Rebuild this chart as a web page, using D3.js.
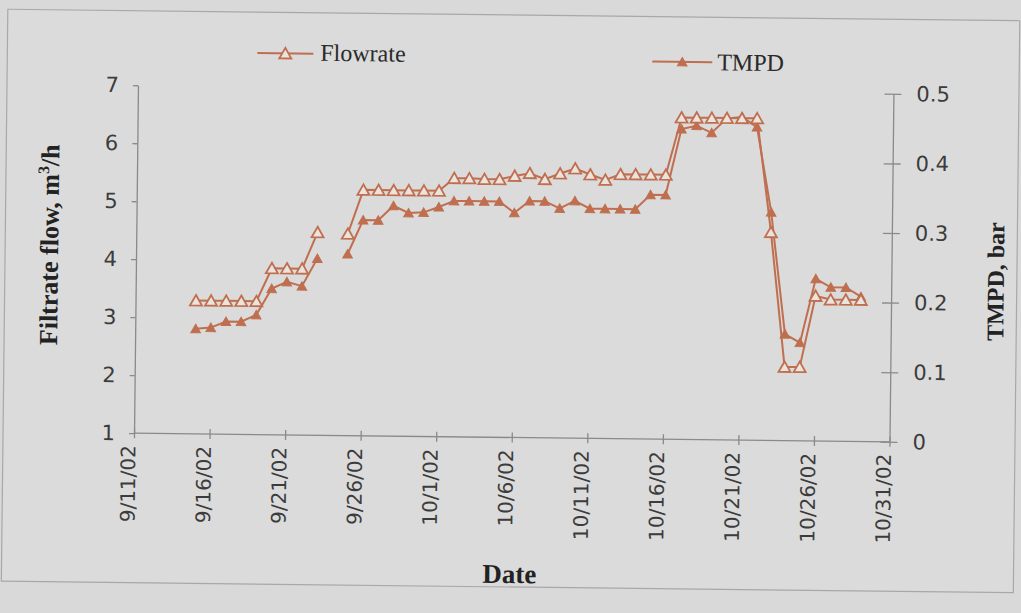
<!DOCTYPE html>
<html><head><meta charset="utf-8">
<script src="https://cdn.jsdelivr.net/npm/d3@7"></script>
<style>html,body{margin:0;padding:0;background:#d9d9d9;} svg{display:block}</style>
</head><body><svg id="c" width="1021" height="613"></svg>
<script>
// ---- data ----
const dates = ["9/15/02","9/16/02","9/17/02","9/18/02","9/19/02","9/20/02","9/21/02","9/22/02","9/23/02","9/24/02","9/25/02",
  "9/26/02","9/27/02","9/28/02","9/29/02","9/30/02","10/1/02","10/2/02","10/3/02","10/4/02","10/5/02","10/6/02","10/7/02",
  "10/8/02","10/9/02","10/10/02","10/11/02","10/12/02","10/13/02","10/14/02","10/15/02","10/16/02","10/17/02","10/18/02",
  "10/19/02","10/20/02","10/21/02","10/22/02","10/23/02","10/24/02","10/25/02","10/26/02","10/27/02","10/28/02","10/29/02"];
const flowrate = [3.30,3.30,3.30,3.30,3.30,3.87,3.87,3.87,4.50,null,4.48,
  5.24,5.24,5.24,5.24,5.24,5.24,5.46,5.46,5.45,5.45,5.51,5.56,
  5.46,5.56,5.65,5.55,5.46,5.56,5.56,5.56,5.56,6.55,6.55,
  6.55,6.55,6.55,6.55,4.59,2.27,2.27,3.50,3.44,3.44,3.44];
const tmpd = [0.151,0.153,0.162,0.162,0.172,0.210,0.220,0.214,0.254,null,0.261,
  0.310,0.310,0.331,0.321,0.322,0.330,0.339,0.339,0.339,0.339,0.323,0.340,
  0.340,0.330,0.341,0.330,0.330,0.330,0.330,0.351,0.351,0.446,0.451,
  0.441,0.462,0.464,0.450,0.328,0.153,0.141,0.233,0.221,0.221,0.208];
const xTickLabels = ["9/11/02","9/16/02","9/21/02","9/26/02","10/1/02","10/6/02","10/11/02","10/16/02","10/21/02","10/26/02","10/31/02"];
const flowTicks = [1,2,3,4,5,6,7];
const tmpdTicks = [0,0.1,0.2,0.3,0.4,0.5];
const seriesNames = ["Flowrate","TMPD"];

// ---- setup ----
const parse = d3.utcParse("%m/%d/%y");
const fmt = d3.utcFormat("%-m/%-d/%y");
const L = 136, R = 891.5, T = 89.5, B = 437.5;
const col = "#bf6f4f", axisCol = "#8a8a8a", txtCol = "#3c3c3c";

const svg = d3.select("#c");
svg.append("rect").attr("width",1021).attr("height",613).attr("fill","#d9d9d9");
const g = svg.append("g").attr("transform","rotate(0.65,513,262)");

g.append("rect").attr("x",5).attr("y",15).attr("width",1012).attr("height",572)
  .attr("fill","#dbdbdb").attr("stroke","#a8a8a8").attr("stroke-width",1.2);

const x = d3.scaleUtc().domain([parse(xTickLabels[0]), parse(xTickLabels[xTickLabels.length-1])]).range([L,R]);
const yL = d3.scaleLinear().domain([1,7]).range([B,T]);
const yR = d3.scaleLinear().domain([0,0.5]).range([B,T]);

// axes
const xAxis = g.append("g").attr("transform",`translate(0,${B})`)
  .call(d3.axisBottom(x).tickValues(xTickLabels.map(parse)).tickSizeInner(5).tickSizeOuter(0).tickFormat(fmt));
xAxis.selectAll(".tick line").attr("y1",-5).attr("y2",5);
xAxis.selectAll(".tick text").attr("transform","rotate(-90)")
  .attr("text-anchor","end").attr("x",-12).attr("y",0).attr("dy","0.05em")
  .style("font-family","DejaVu Sans").style("font-size","20px").attr("fill",txtCol);

const lAxis = g.append("g").attr("transform",`translate(${L},0)`)
  .call(d3.axisLeft(yL).tickValues(flowTicks).tickSizeInner(5).tickSizeOuter(0).tickPadding(14).tickFormat(d3.format("d")));
lAxis.selectAll("text").style("font-family","DejaVu Sans").style("font-size","21px").attr("fill",txtCol);

const rAxis = g.append("g").attr("transform",`translate(${R},0)`)
  .call(d3.axisRight(yR).tickValues(tmpdTicks).tickSizeInner(8).tickSizeOuter(0).tickPadding(15).tickFormat(d => d===0?"0":d3.format(".1f")(d)));
rAxis.selectAll(".tick line").attr("x1",-9).attr("x2",8);
rAxis.selectAll("text").style("font-family","DejaVu Sans").style("font-size","21px").attr("fill",txtCol);

[xAxis,lAxis,rAxis].forEach(a => { a.selectAll("path,line").attr("stroke",axisCol).attr("stroke-width",1.3); });
xAxis.select(".domain").attr("d",`M${L},0H${R}`);

// titles
g.append("text").attr("transform","translate(58,250) rotate(-90)").attr("text-anchor","middle")
  .style("font-family","Liberation Serif").style("font-weight","bold").style("font-size","26px").attr("fill","#222")
  .html('Filtrate flow, m<tspan dy="-10" font-size="16px">3</tspan><tspan dy="10">/h</tspan>');
g.append("text").attr("transform","translate(1004,276) rotate(-90)").attr("text-anchor","middle")
  .style("font-family","Liberation Serif").style("font-weight","bold").style("font-size","24px").attr("fill","#222")
  .text("TMPD, bar");
g.append("text").attr("x",513).attr("y",583).attr("text-anchor","middle")
  .style("font-family","Liberation Serif").style("font-weight","bold").style("font-size","27px").attr("fill","#222")
  .text("Date");

// series
const openTri = "M0,-5.5L6,5L-6,5Z";
const fillTri = "M0,-4.5L4.8,4L-4.8,4Z";
const flowData = dates.map((d,i) => ({d: parse(d), v: flowrate[i]}));
const tmpdData = dates.map((d,i) => ({d: parse(d), v: tmpd[i]}));

const lineL = d3.line().defined(p => p.v != null).x(p => x(p.d)).y(p => yL(p.v));
const lineR = d3.line().defined(p => p.v != null).x(p => x(p.d)).y(p => yR(p.v));

g.append("path").datum(tmpdData).attr("d",lineR).attr("fill","none").attr("stroke",col).attr("stroke-width",2);
g.append("path").datum(flowData).attr("d",lineL).attr("fill","none").attr("stroke",col).attr("stroke-width",2);

g.append("g").selectAll("path").data(tmpdData.filter(p=>p.v!=null)).join("path")
  .attr("d",fillTri).attr("transform",p=>`translate(${x(p.d)},${yR(p.v)})`).attr("fill",col).attr("stroke",col).attr("stroke-width",1);
g.append("g").selectAll("path").data(flowData.filter(p=>p.v!=null)).join("path")
  .attr("d",openTri).attr("transform",p=>`translate(${x(p.d)},${yL(p.v)})`).attr("fill","#ebe3de").attr("stroke",col).attr("stroke-width",1.8);

// legend
const leg = [{name:seriesNames[0], x1:255, x2:311, y:56, tx:318, ty:63, open:true},
             {name:seriesNames[1], x1:650, x2:710, y:60, tx:715, ty:68, open:false}];
leg.forEach(e => {
  g.append("line").attr("x1",e.x1).attr("x2",e.x2).attr("y1",e.y).attr("y2",e.y).attr("stroke",col).attr("stroke-width",2);
  g.append("path").attr("d", e.open?openTri:fillTri).attr("transform",`translate(${(e.x1+e.x2)/2},${e.y})`)
    .attr("fill", e.open?"#ebe3de":col).attr("stroke",col).attr("stroke-width", e.open?1.8:1);
  g.append("text").attr("x",e.tx).attr("y",e.ty).text(e.name)
    .style("font-family","Liberation Serif").style("font-size","24px").attr("fill","#2a2a2a");
});
</script></body></html>
